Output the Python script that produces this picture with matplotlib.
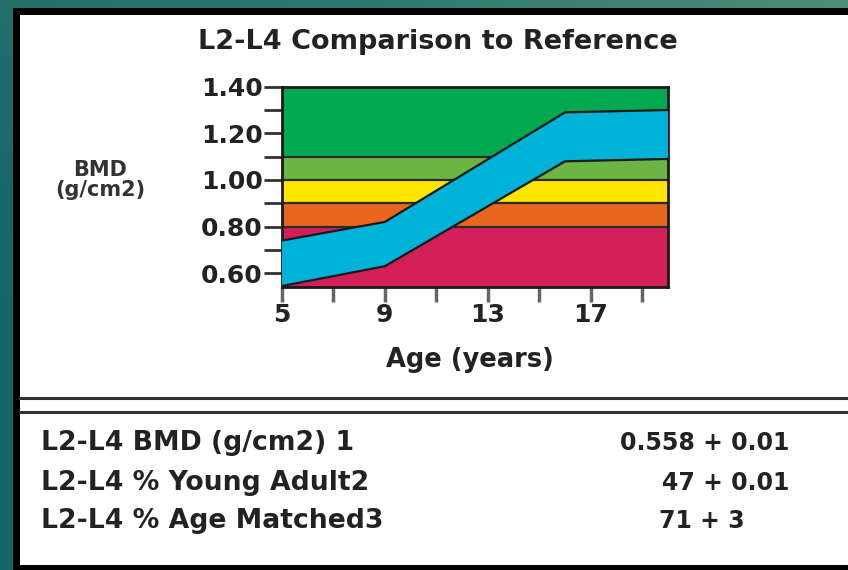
import matplotlib
matplotlib.use("Agg")
import matplotlib.pyplot as plt
from matplotlib.patches import Rectangle
from matplotlib.lines import Line2D
import numpy as np

# ---- data ----
title = "L2-L4 Comparison to Reference"
ylabel = "BMD\n(g/cm2)"
xlabel = "Age (years)"
x_major = [5, 9, 13, 17]
x_minor = [7, 11, 15, 19]
y_major = [0.60, 0.80, 1.00, 1.20, 1.40]
y_minor = [0.70, 0.90, 1.10, 1.30]
band_edges = [0.542, 0.80, 0.90, 1.00, 1.10, 1.40]
band_colors = ["#d21f58", "#e8661f", "#ffe500", "#6cb545", "#00a94f"]
ref_ages = [5, 9, 16, 20]
ref_upper = [0.74, 0.82, 1.29, 1.30]
ref_lower = [0.545, 0.63, 1.08, 1.09]
row_labels = ["L2-L4 BMD (g/cm2) 1", "L2-L4 % Young Adult2", "L2-L4 % Age Matched3"]
row_values = ["0.558 + 0.01", "47 + 0.01", "71 + 3"]

W, H = 848, 570
plt.rcParams['font.family'] = ['DejaVu Sans']
fig = plt.figure(figsize=(W / 100, H / 100), dpi=100)
fig.patch.set_facecolor("#176a69")

def fx(x):
    return x / W

def fy(y):
    return 1 - y / H

# background gradient
bg = fig.add_axes([0, 0, 1, 1], zorder=-10)
grad = np.linspace(0, 1, 256)
gx, gy = np.meshgrid(grad, grad)
c1 = np.array([0x16, 0x66, 0x67]) / 255
c2 = np.array([0x4f, 0x8f, 0x7a]) / 255
t = np.clip((1 - gy) * 0.6 + gx * 0.4, 0, 1) ** 3
img = c1[None, None, :] * (1 - t[..., None]) + c2[None, None, :] * t[..., None]
bg.imshow(img, extent=[0, 1, 0, 1], aspect="auto", origin="upper")
bg.set_axis_off()

# panel
fig.patches.append(Rectangle((fx(13), 0), 1, fy(8), transform=fig.transFigure,
                             facecolor="black", edgecolor="none", zorder=-5))
fig.patches.append(Rectangle((fx(20), fy(565)), 1, fy(15) - fy(565), transform=fig.transFigure,
                             facecolor="white", edgecolor="none", zorder=-4))
for yy in (398, 412):
    fig.lines.append(Line2D([fx(20), 1], [fy(yy), fy(yy)], transform=fig.transFigure,
                            color="#333333", linewidth=2.2, zorder=-3))

# chart axes
left, right, top, bottom = 282, 668, 86.7, 286.7
ax = fig.add_axes([fx(left), fy(bottom), fx(right - left), (bottom - top) / H])
ax.set_xlim(5, 20)
ax.set_ylim(band_edges[0], band_edges[-1])

for lo, hi, c in zip(band_edges[:-1], band_edges[1:], band_colors):
    ax.axhspan(lo, hi, facecolor=c, edgecolor="none", zorder=1)
for e in band_edges[1:-1]:
    ax.axhline(e, color="#2a2a2a", linewidth=1.6, zorder=2)

ax.fill_between(ref_ages, ref_lower, ref_upper, facecolor="#00b1d8", edgecolor="none", zorder=3)
ax.plot(ref_ages, ref_upper, color="#1a1a1a", linewidth=1.6, zorder=4)
ax.plot(ref_ages, ref_lower, color="#1a1a1a", linewidth=1.6, zorder=4)

for s in ax.spines.values():
    s.set_color("#1a1a1a")
    s.set_linewidth(2)

ax.set_xticks(x_major)
ax.set_xticks(x_minor, minor=True)
ax.set_yticks(y_major)
ax.set_yticks(y_minor, minor=True)
ax.set_xticklabels([str(v) for v in x_major])
ax.set_yticklabels([f"{v:.2f}" for v in y_major])
ax.tick_params(axis="y", which="both", direction="out", length=13, width=2,
               color="#333333", labelsize=18, labelcolor="#222222", pad=1)
ax.tick_params(axis="x", which="both", direction="out", length=11, width=2.5,
               color="#666666", labelsize=18, labelcolor="#222222", pad=1)
for lab in ax.get_xticklabels() + ax.get_yticklabels():
    lab.set_fontweight("bold")

fig.text(fx(438), fy(42), title, ha="center", va="center", fontsize=19.5,
         fontweight="bold", color="#222222")
fig.text(fx(470), fy(360), xlabel, ha="center", va="center", fontsize=18.5,
         fontweight="bold", color="#222222")
fig.text(fx(100), fy(180), ylabel, ha="center", va="center", fontsize=15,
         fontweight="bold", color="#333333", linespacing=0.95)

row_y = [443, 483, 521]
for yy, lab in zip(row_y, row_labels):
    fig.text(fx(41), fy(yy), lab, ha="left", va="center", fontsize=19.2,
             fontweight="bold", color="#222222")
fig.text(fx(789), fy(row_y[0]), row_values[0], ha="right", va="center", fontsize=17,
         fontweight="bold", color="#222222")
fig.text(fx(789), fy(row_y[1]), row_values[1], ha="right", va="center", fontsize=17,
         fontweight="bold", color="#222222")
fig.text(fx(659), fy(row_y[2]), row_values[2], ha="left", va="center", fontsize=17,
         fontweight="bold", color="#222222")

fig.savefig("out.png", dpi=100, facecolor=fig.get_facecolor())
